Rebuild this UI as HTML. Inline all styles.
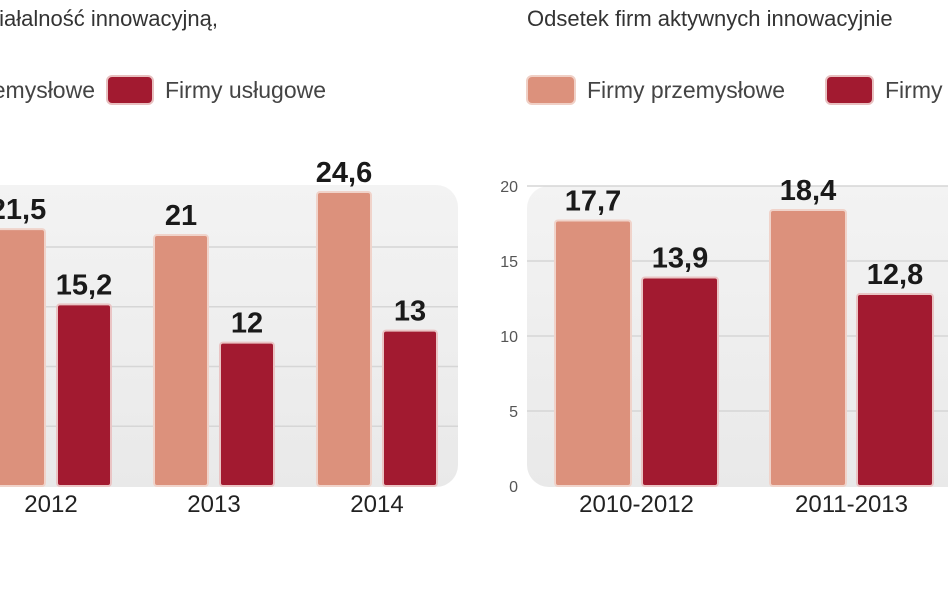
<!DOCTYPE html>
<html><head><meta charset="utf-8"><style>
html,body{margin:0;padding:0;background:#fff;width:948px;height:593px;overflow:hidden}
svg{display:block;font-family:"Liberation Sans",sans-serif}
.val{font-family:"Liberation Sans Narrow","Liberation Sans",sans-serif;font-weight:bold;font-size:29px;fill:#1a1a1a}
.cat{font-size:24px;fill:#222}
.leg{font-size:23px;fill:#444}
.tick{font-size:16px;fill:#555}
</style></head><body>
<svg id="chart" width="948" height="593" viewBox="0 0 948 593">
<defs><linearGradient id="bg" x1="0" y1="0" x2="0" y2="1"><stop offset="0" stop-color="#f3f3f3"/><stop offset="1" stop-color="#e9e9e9"/></linearGradient></defs>
<text x="218" y="26" text-anchor="end" font-size="22" fill="#333">Firmy prowadzące działalność innowacyjną,</text>
<text x="527" y="26" font-size="22" fill="#333">Odsetek firm aktywnych innowacyjnie</text>
<g>
<text class="leg" x="95" y="98" text-anchor="end">Firmy przemysłowe</text>
<rect x="107" y="76" width="46" height="28" rx="5" fill="#a21a30" stroke="#e8c0c0" stroke-width="2"/>
<text class="leg" x="165" y="98">Firmy usługowe</text>
</g>
<g>
<rect x="527" y="76" width="48" height="28" rx="5" fill="#dc917c" stroke="#f0d0c6" stroke-width="2"/>
<text class="leg" x="587" y="98">Firmy przemysłowe</text>
<rect x="826" y="76" width="47" height="28" rx="5" fill="#a21a30" stroke="#e8c0c0" stroke-width="2"/>
<text class="leg" x="885" y="98">Firmy usługowe</text>
</g>
<rect x="-30" y="185" width="488" height="302" rx="22" fill="url(#bg)"/>
<rect x="527" y="186" width="460" height="301" rx="22" fill="url(#bg)"/>
<g id="left"></g><g id="right"></g>
</svg>
<script>
const leftCategories=["2012","2013","2014"];
const leftIndustry=[21.5,21,24.6];
const leftServices=[15.2,12,13];
const leftTicks=[5,10,15,20];
const rightCategories=["2010-2012","2011-2013","2012-2014"];
const rightIndustry=[17.7,18.4,17.5];
const rightServices=[13.9,12.8,12.5];
const rightTicks=[0,5,10,15,20];
const NS="http://www.w3.org/2000/svg";
function mk(p,t,a){const e=document.createElementNS(NS,t);for(const k in a)e.setAttribute(k,a[k]);p.appendChild(e);return e;}
function fmt(v){return String(v).replace('.',',');}
function draw(gid,cats,ind,srv,ticks,o){
  const g=document.getElementById(gid);
  const y=v=>o.base-v*o.scale;
  ticks.forEach(t=>{
    if(t>0){const l=mk(g,'line',{x1:o.gx0,x2:o.gx1,y1:y(t),y2:y(t),stroke:'#d6d6d6','stroke-width':1.5});
    
    }
    if(o.showTicks){const tx=mk(g,'text',{x:o.tickX,y:y(t)+6,'text-anchor':'end',class:'tick'});tx.textContent=t;
    
    }
  });
  cats.forEach((c,i)=>{
    const x0=o.x0+i*o.step;
    [[ind[i],'#dc917c','#f0d3ca',0],[srv[i],'#a21a30','#eac4c4',o.bw+o.gap]].forEach(([v,f,s,dx],k)=>{
      const r=mk(g,'rect',{x:x0+dx,y:y(v),width:o.bw,height:o.base-y(v),rx:3,fill:f,stroke:s,'stroke-width':2});
      
      
      const t=mk(g,'text',{x:x0+dx+o.bw/2,y:y(v)-10,'text-anchor':'middle',class:'val'});t.textContent=fmt(v);
      
      
    });
    const cl=mk(g,'text',{x:x0+o.bw+o.gap/2,y:512,'text-anchor':'middle',class:'cat'});cl.textContent=c;
    
    
  });
}
draw('left',leftCategories,leftIndustry,leftServices,leftTicks,{base:486,scale:11.95,x0:-9,step:163,bw:54,gap:12,gx0:0,gx1:458,showTicks:false});
draw('right',rightCategories,rightIndustry,rightServices,rightTicks,{base:486,scale:15,x0:555,step:215,bw:76,gap:11,gx0:527,gx1:948,showTicks:true,tickX:518});
</script>
</body></html>
